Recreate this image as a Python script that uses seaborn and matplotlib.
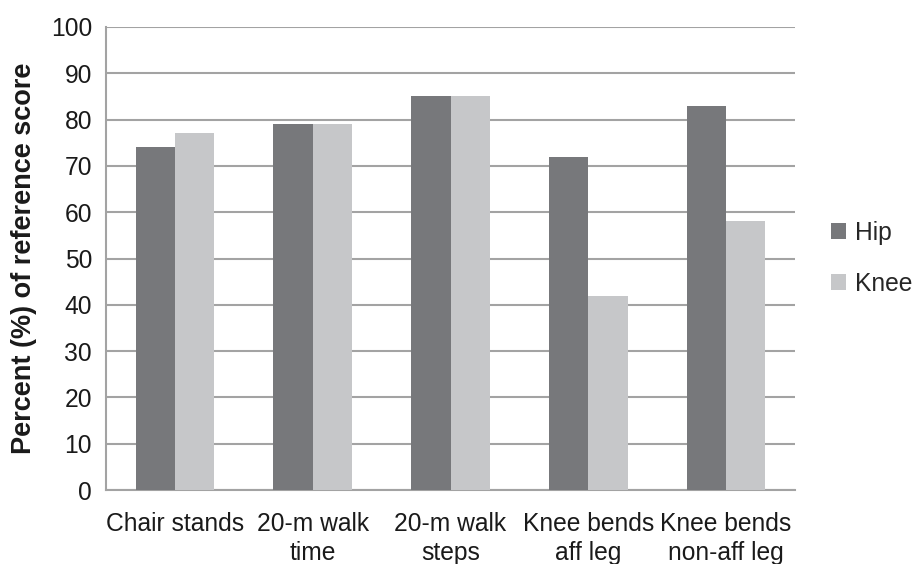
import matplotlib
matplotlib.use("Agg")
import matplotlib.pyplot as plt
import numpy as np
import pandas as pd
import seaborn as sns

categories = ["Chair stands", "20-m walk\ntime", "20-m walk\nsteps",
              "Knee bends\naff leg", "Knee bends\nnon-aff leg"]
hip = [74, 79, 85, 72, 83]
knee = [77, 79, 85, 42, 58]

df = pd.DataFrame({
    "task": categories * 2,
    "group": ["Hip"] * len(categories) + ["Knee"] * len(categories),
    "value": hip + knee,
})

sns.set_style("white")
plt.rcParams["font.family"] = ["Liberation Sans", "DejaVu Sans"]

fig = plt.figure(figsize=(9.19, 5.64), dpi=100)
ax = fig.add_axes([106 / 919, 1 - 490 / 564, (795 - 106) / 919, (490 - 27) / 564])

grid_col = "#a3a3a3"
fs = 17.7
sns.barplot(data=df, x="task", y="value", hue="group",
            palette={"Hip": "#77787b", "Knee": "#c6c7c9"},
            width=0.57, saturation=1, edgecolor="none", ax=ax, zorder=3)

ax.set_ylim(0, 100)
ax.set_xlim(-0.5, len(categories) - 0.5)
ax.set_yticks(np.arange(0, 101, 10))
ax.yaxis.grid(True, color=grid_col, lw=1.5, zorder=0)
ax.set_axisbelow(True)
for s in ["top", "right"]:
    ax.spines[s].set_visible(False)
for s in ["left", "bottom"]:
    ax.spines[s].set_color(grid_col)
    ax.spines[s].set_linewidth(1.5)

ax.tick_params(axis="y", length=8, width=1.5, color=grid_col, labelsize=fs,
               labelcolor="#1a1a1a", pad=2)
ax.tick_params(axis="x", which="major", length=0, labelsize=fs,
               labelcolor="#1a1a1a", pad=16)
for lbl in ax.get_xticklabels():
    lbl.set_linespacing(1.25)
ax.set_xticks(np.arange(-0.5, len(categories)), minor=True)
ax.tick_params(axis="x", which="minor", length=6, width=1.5, color=grid_col)

ax.set_xlabel("")
ax.set_ylabel("Percent (%) of reference score", fontsize=19.5, fontweight="bold",
              color="#1a1a1a", labelpad=10)

handles, labels = ax.get_legend_handles_labels()
ax.legend(handles, labels, loc="upper left", bbox_to_anchor=(831 / 919, 1 - 221 / 564),
          bbox_transform=fig.transFigure, frameon=False, fontsize=fs,
          handlelength=0.62, handleheight=0.62, handletextpad=0.35,
          labelspacing=1.1, borderpad=0, borderaxespad=0)

fig.savefig("out.png", dpi=100)
